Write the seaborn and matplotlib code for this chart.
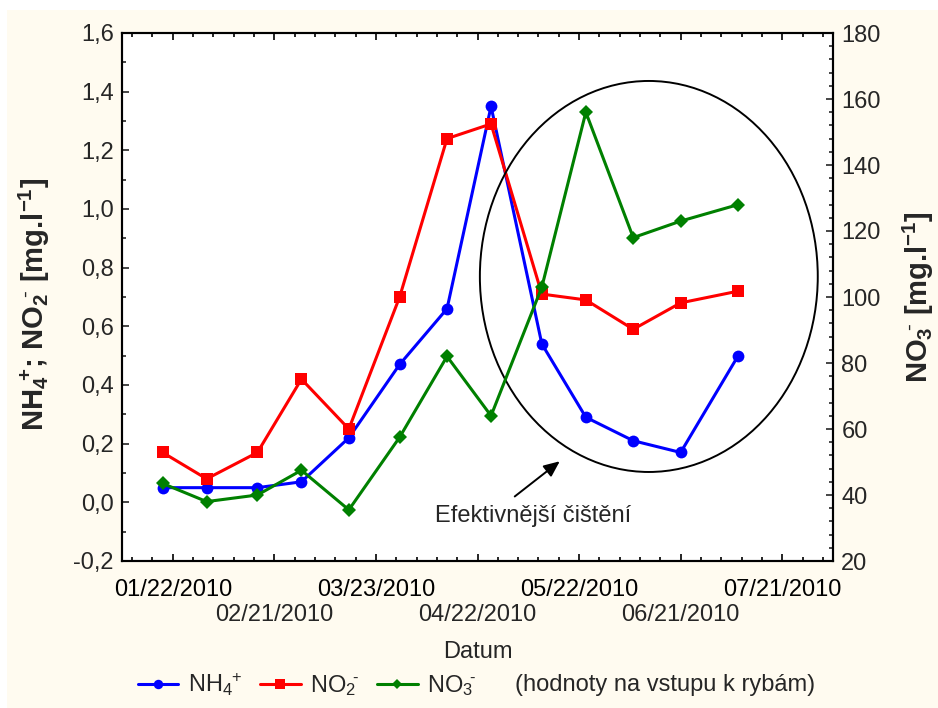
import numpy as np
import pandas as pd
import matplotlib
matplotlib.use("Agg")
import matplotlib.pyplot as plt
import matplotlib.dates as mdates
from matplotlib.patches import Ellipse, Rectangle
from matplotlib.ticker import MultipleLocator, FuncFormatter, FixedLocator
import seaborn as sns

# Sampling dates and measured concentrations at the fish-tank inflow
dates = pd.to_datetime([
    "2010-01-19", "2010-02-01", "2010-02-16", "2010-03-01", "2010-03-15",
    "2010-03-30", "2010-04-13", "2010-04-26", "2010-05-11", "2010-05-24",
    "2010-06-07", "2010-06-21", "2010-07-08",
])
nh4 = [0.05, 0.05, 0.05, 0.07, 0.22, 0.47, 0.66, 1.35, 0.54, 0.29, 0.21, 0.17, 0.50]
no2 = [0.17, 0.08, 0.17, 0.42, 0.25, 0.70, 1.24, 1.29, 0.71, 0.69, 0.59, 0.68, 0.72]
no3 = [43.5, 38, 40, 47.5, 35.5, 57.5, 82, 64, 103, 156, 118, 123, 128]

tick_dates = pd.date_range("2010-01-22", periods=7, freq="30D")
tick_labels = [d.strftime("%m/%d/%Y") for d in tick_dates]

sns.set_theme(style="ticks")
plt.rcParams["font.family"] = ["Liberation Sans", "DejaVu Sans"]
plt.rcParams["mathtext.fontset"] = "custom"
plt.rcParams["mathtext.rm"] = "Liberation Sans"
plt.rcParams["mathtext.it"] = "Liberation Sans:italic"
plt.rcParams["mathtext.bf"] = "Liberation Sans:bold"
plt.rcParams["mathtext.default"] = "rm"

FS = 17
fig = plt.figure(figsize=(9.38, 7.08), dpi=100, facecolor="white")
fig.patches.append(Rectangle((7 / 938, 0), 1, (708 - 10) / 708, transform=fig.transFigure,
                             facecolor="#FFFBF0", edgecolor="none", zorder=-10))

ax = fig.add_axes([122 / 938, (708 - 561) / 708, 711 / 938, 528 / 708])
ax.set_facecolor("white")
ax2 = ax.twinx()

lw = 2.2
sns.lineplot(x=dates, y=nh4, ax=ax, color="#0000FF", marker="o", markersize=8.5,
             markeredgewidth=0, linewidth=lw, legend=False, label=r"NH$_4\!{}^+$")
sns.lineplot(x=dates, y=no2, ax=ax, color="#FF0000", marker="s", markersize=8.5,
             markeredgewidth=0, linewidth=lw, legend=False, label=r"NO$_2\!{}^{\text{-}}$")
sns.lineplot(x=dates, y=no3, ax=ax2, color="#008000", marker="D", markersize=7,
             markeredgewidth=0, linewidth=lw, legend=False, label=r"NO$_3\!{}^{\text{-}}$")

# Axes ranges and ticks
ax.set_xlim(pd.Timestamp("2010-01-07"), pd.Timestamp("2010-08-05"))
ax.set_ylim(-0.2, 1.6)
ax2.set_ylim(20, 180)

# Date labels alternate between two rows
ax.xaxis.set_major_locator(FixedLocator(mdates.date2num(tick_dates)))
ax.set_xticklabels([t if i % 2 == 0 else "" for i, t in enumerate(tick_labels)], fontsize=FS)
minor = pd.date_range("2010-01-10", "2010-08-05", freq="6D")
ax.xaxis.set_minor_locator(FixedLocator(mdates.date2num(minor)))

low = ax.secondary_xaxis("bottom")
low.set_xticks(mdates.date2num(tick_dates[1::2]))
low.set_xticklabels(tick_labels[1::2], fontsize=FS)
low.tick_params(axis="x", length=0, pad=31, labelsize=FS)
low.spines["bottom"].set_visible(False)

ax.yaxis.set_major_locator(MultipleLocator(0.2))
ax.yaxis.set_minor_locator(MultipleLocator(0.1))
ax.yaxis.set_major_formatter(FuncFormatter(lambda v, p: f"{v:.1f}".replace(".", ",").replace("-0,0", "0,0")))
ax2.yaxis.set_major_locator(MultipleLocator(20))
ax2.yaxis.set_minor_locator(MultipleLocator(4))

for a in (ax, ax2):
    for s in a.spines.values():
        s.set_linewidth(1.5)
        s.set_color("black")
ax.tick_params(axis="x", which="both", direction="in", top=True, bottom=True, width=1.2,
               colors="black", labelsize=FS, pad=13)
ax.tick_params(axis="x", which="major", length=5)
ax.tick_params(axis="x", which="minor", length=3)
ax.tick_params(axis="y", which="both", direction="in", left=True, right=False, width=1.2,
               labelsize=FS, pad=6)
ax.tick_params(axis="y", which="major", length=5)
ax.tick_params(axis="y", which="minor", length=3)
ax2.tick_params(axis="y", which="both", direction="in", right=True, width=1.2,
                labelsize=FS, pad=6)
ax2.tick_params(axis="y", which="major", length=5)
ax2.tick_params(axis="y", which="minor", length=3)

ax.set_xlabel("Datum", fontsize=FS)
ax.xaxis.set_label_coords(0.5, -0.152)
ax.set_ylabel(r"NH$_\mathbf{4}\!{}^\mathbf{+}$; NO$_\mathbf{2}\!{}^{\text{-}}$ [mg.l$^\mathbf{-1}$]",
              fontsize=21, fontweight="bold")
ax.yaxis.set_label_coords(-0.098, 0.485)
ax2.set_ylabel(r"NO$_\mathbf{3}\!{}^{\text{-}}$ [mg.l$^\mathbf{-1}$]", fontsize=21, fontweight="bold")
ax2.yaxis.set_label_coords(1.096, 0.5)

# Highlight of the period with more effective treatment
t0 = mdates.date2num(pd.Timestamp("2010-01-22"))
ax.add_patch(Ellipse((t0 + 140.6, 0.77), 99.8, 1.333, fill=False, edgecolor="black",
                     linewidth=1.4, zorder=5))
ax.annotate("", xy=(t0 + 114.3, 0.14), xytext=(t0 + 101, 0.02),
            arrowprops=dict(arrowstyle="-|>,head_length=0.8,head_width=0.35",
                            color="black", lw=1.4, shrinkA=0, shrinkB=0))
ax.text(t0 + 106.3, -0.048, "Efektivnější čištění", fontsize=FS, ha="center", va="center")

# Legend below the plot
handles = ax.get_lines()[:2] + ax2.get_lines()[:1]
leg = fig.legend(handles, [h.get_label() for h in handles], loc="center left",
                 bbox_to_anchor=(138 / 938, 23 / 708), ncol=3, frameon=False,
                 fontsize=FS, handlelength=1.7, handletextpad=0.42, columnspacing=0.75,
                 borderpad=0, borderaxespad=0, markerscale=0.8)
fig.text(515 / 938, 23 / 708, "(hodnoty na vstupu k rybám)", fontsize=FS, va="center", ha="left")

fig.savefig("out.png", dpi=100, facecolor=fig.get_facecolor())
